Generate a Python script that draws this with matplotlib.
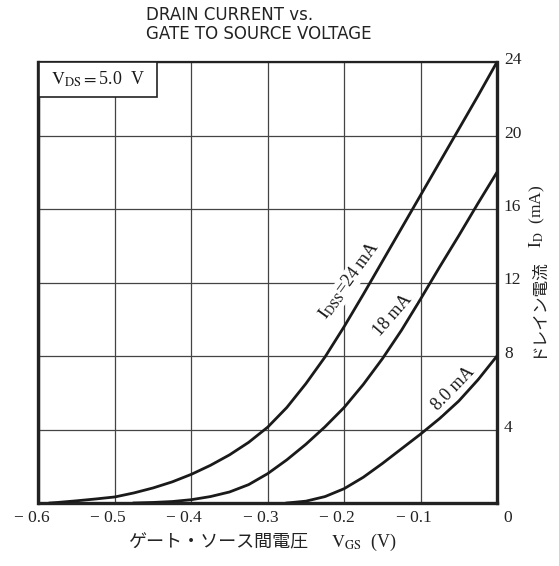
import matplotlib as mpl

mpl.use("Agg")

import matplotlib.pyplot as plt
from matplotlib.patches import Rectangle
from matplotlib.transforms import ScaledTranslation

plt.rcParams["mathtext.fontset"] = "stix"

# drain current curves (V_GS in V, I_D in mA)
vgs_24 = [-0.585, -0.575, -0.55, -0.525, -0.5, -0.475, -0.45, -0.425, -0.4, -0.375, -0.35, -0.325,
          -0.3, -0.275, -0.25, -0.225, -0.2, -0.175, -0.15, -0.125, -0.1, -0.075, -0.05, -0.025, 0.0]
id_24 = [0.0, 0.03, 0.12, 0.22, 0.33, 0.55, 0.82, 1.15, 1.56, 2.05, 2.62, 3.3,
         4.13, 5.2, 6.5, 7.95, 9.6, 11.35, 13.15, 14.95, 16.75, 18.55, 20.35, 22.15, 24.0]

vgs_18 = [-0.475, -0.45, -0.425, -0.4, -0.375, -0.35, -0.325, -0.3, -0.275, -0.25, -0.225,
          -0.2, -0.175, -0.15, -0.125, -0.1, -0.075, -0.05, -0.025, 0.0]
id_18 = [0.0, 0.03, 0.08, 0.18, 0.35, 0.6, 1.0, 1.6, 2.35, 3.2, 4.15,
         5.2, 6.45, 7.85, 9.4, 11.1, 12.85, 14.55, 16.3, 18.0]

vgs_8 = [-0.275, -0.25, -0.225, -0.2, -0.175, -0.15, -0.125, -0.1, -0.075, -0.05, -0.025, 0.0]
id_8 = [0.0, 0.1, 0.35, 0.78, 1.4, 2.15, 2.95, 3.75, 4.6, 5.55, 6.7, 8.0]

curve_labels = [r"$\mathrm{I_{DSS}}$=24 mA", "18 mA", "8.0 mA"]
label_pos = [(-0.193, 12.1), (-0.136, 10.2), (-0.057, 6.2)]
label_rot = [54, 49, 46]

x_ticks = [-0.6, -0.5, -0.4, -0.3, -0.2, -0.1, 0.0]
x_tick_labels = ["\u2212 0.6", "\u2212 0.5", "\u2212 0.4", "\u2212 0.3", "\u2212 0.2", "\u2212 0.1", "0"]
y_ticks = [4, 8, 12, 16, 20, 24]

W, H = 559, 566
fig = plt.figure(figsize=(W / 100, H / 100), dpi=100)
ax = fig.add_axes([38.5 / W, 63 / H, 458.5 / W, 441 / H])

ax.set_xlim(-0.6, 0.0)
ax.set_ylim(0, 24)
ax.yaxis.tick_right()
ax.set_xticks(x_ticks, x_tick_labels)
ax.set_yticks(y_ticks)
ax.tick_params(length=0, labelsize=12.5, colors="#222222")
ax.tick_params(axis="x", pad=5)
ax.tick_params(axis="y", pad=5)
for lab in ax.get_xticklabels() + ax.get_yticklabels():
    lab.set_family("Liberation Serif")
for lab, val in zip(ax.get_xticklabels(), x_ticks):
    dx = 11 / 100 if val == 0 else -7 / 100
    lab.set_transform(lab.get_transform() + ScaledTranslation(dx, 0, fig.dpi_scale_trans))
for lab in ax.get_yticklabels():
    lab.set_transform(lab.get_transform() + ScaledTranslation(0, 4 / 100, fig.dpi_scale_trans))

ax.grid(True, color="#444444", linewidth=0.9)
ax.set_axisbelow(True)
for side in ("left", "right", "bottom"):
    ax.spines[side].set_linewidth(2.4)
ax.spines["top"].set_linewidth(1.6)
for sp in ax.spines.values():
    sp.set_color("#222222")

for v, i in ((vgs_24, id_24), (vgs_18, id_18), (vgs_8, id_8)):
    ax.plot(v, i, color="#1a1a1a", linewidth=2.0, zorder=3)

for text, (x, y), rot in zip(curve_labels, label_pos, label_rot):
    ax.text(x, y, text, rotation=rot, rotation_mode="anchor", ha="center", va="center",
            fontsize=13, family="Liberation Serif", color="#1a1a1a", zorder=4,
            bbox=dict(facecolor="white", edgecolor="none", pad=0.5))

# condition box in the upper left corner
ax.add_patch(Rectangle((-0.6, 22.1), 0.155, 1.9, facecolor="white", edgecolor="#222222",
                       linewidth=1.2, zorder=5))
ax.text(-0.5225, 23.05, r"$\mathrm{V_{DS}}$$=$5.0  V", ha="center", va="center",
        fontsize=13, family="Liberation Serif", color="#1a1a1a", zorder=6)

fig.text(146 / W, 1 - 19.6 / H, "DRAIN CURRENT vs.", fontsize=12, va="baseline", color="#222222")
fig.text(146 / W, 1 - 39 / H, "GATE TO SOURCE VOLTAGE", fontsize=12, va="baseline", color="#222222")

fig.text(128 / W, 1 - 542 / H, "ゲート・ソース間電圧", family=["Noto Sans CJK JP"], fontsize=13,
         ha="left", va="center", color="#222222")
fig.text(331 / W, 1 - 542 / H, r"$\mathrm{V_{GS}}$  (V)", family="Liberation Serif", fontsize=13,
         ha="left", va="center", color="#222222")

fig.text(537 / W, 1 - 358 / H, "ドレイン電流", family=["Noto Sans CJK JP"], fontsize=12,
         rotation=90, ha="center", va="bottom", color="#222222")
fig.text(537 / W, 1 - 248 / H, r"$\mathrm{I_D}$  (mA)", family="Liberation Serif", fontsize=12.5,
         rotation=90, ha="center", va="bottom", color="#222222")

fig.savefig("out.png", dpi=100, facecolor="white")
